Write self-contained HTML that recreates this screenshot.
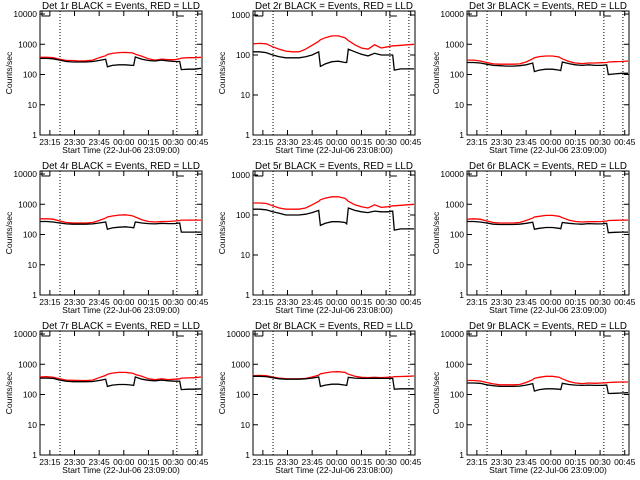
<!DOCTYPE html>
<html><head><meta charset="utf-8"><style>
html,body{margin:0;padding:0;background:#fff;}
svg{display:block;font-family:"Liberation Sans",sans-serif;}
</style></head><body>
<svg id="chart" width="640" height="480" viewBox="0 0 640 480"></svg>
<script>
const times = [0,4,8,12,16,20,24,28,32,36,40,41,44,48,52,56,57,58,62,66,70,74,78,82,85,86,90,94,98];
const detLabels = ["1r","2r","3r","4r","5r","6r","7r","8r","9r"];
const topLogs = [4.1,3.1,4.1,4.1,3.1,4.1,4.1,4.1,4.1];
const xTickMins = [6,21,36,51,66,81,96];
const xTickLabels = ["23:15","23:30","23:45","00:00","00:15","00:30","00:45"];
const dottedMins = [12.2,83.3,94.9];
const black1 = [340,340,330,300,270,260,260,260,270,290,320,180,200,210,210,200,200,380,320,290,280,300,280,270,270,145,150,150,160];
const red1   = [370,370,360,320,290,290,280,285,300,360,420,460,500,530,540,520,500,470,400,330,300,320,310,310,330,350,360,360,370];
const black2 = [120,120,115,100,90,85,85,85,90,100,120,52,60,68,70,65,65,140,120,105,95,110,100,100,100,42,45,45,45];
const red2   = [190,195,190,160,140,125,120,120,140,175,220,240,270,300,300,270,250,230,180,150,140,180,150,160,170,170,175,180,185];
const black3 = [250,250,240,220,200,195,190,190,195,210,240,125,140,150,150,140,135,260,230,210,200,210,200,200,210,100,105,110,110];
const red3   = [300,300,280,250,225,220,220,220,225,260,330,360,390,410,410,380,350,330,270,240,230,240,240,245,250,260,265,270,280];
const black4 = [270,270,260,240,225,220,220,220,225,240,260,150,165,175,180,170,165,260,240,230,225,235,230,230,240,120,120,120,120];
const red4   = [330,330,320,280,250,240,240,240,250,290,350,380,410,440,450,420,400,380,310,270,260,270,270,280,290,300,300,300,300];
const black5 = [140,140,135,120,110,100,100,100,105,115,130,55,62,68,68,65,60,150,130,120,115,125,120,120,125,42,45,45,45];
const red5   = [200,200,195,170,150,140,140,140,150,180,220,240,265,285,285,260,240,220,180,160,150,180,155,160,170,170,175,180,185];
const black6 = [270,270,260,240,220,215,215,215,220,235,255,150,160,170,170,160,155,250,235,225,220,230,225,225,235,115,118,120,120];
const red6   = [320,330,320,280,250,240,240,240,250,290,350,380,400,430,430,400,380,360,300,270,260,265,265,270,280,290,295,300,300];
const black7 = [350,350,340,300,275,265,265,265,270,290,320,185,205,215,215,205,200,380,320,295,285,300,285,275,275,145,150,150,155];
const red7   = [380,390,370,330,300,295,290,290,300,360,430,470,510,540,540,510,490,460,400,330,310,330,310,320,330,350,355,360,380];
const black8 = [400,400,390,360,330,320,320,320,330,350,380,185,205,220,220,205,200,370,350,340,340,345,340,340,340,150,155,155,155];
const red8   = [420,430,420,380,350,335,330,330,340,380,440,480,520,560,570,540,500,470,400,370,360,370,360,370,380,390,395,400,410];
const black9 = [240,240,235,210,195,185,185,185,190,205,230,130,145,155,155,150,145,235,215,205,200,205,200,200,205,108,110,112,115];
const red9   = [290,290,280,250,225,210,210,210,215,250,310,340,370,400,400,375,350,330,270,240,230,240,235,240,245,250,255,260,260];
const blacks = [black1,black2,black3,black4,black5,black6,black7,black8,black9];
const reds = [red1,red2,red3,red4,red5,red6,red7,red8,red9];

const NS = "http://www.w3.org/2000/svg";
const svg = document.getElementById("chart");
function mk(tag, attrs, parent){const e=document.createElementNS(NS,tag);for(const k in attrs)e.setAttribute(k,attrs[k]);parent.appendChild(e);return e;}
const colX=[0,213,427], rowY=[0,160,320];
const X0=40,X1=202,Y0=11,Y1=135,TMAX=98.6;
for(let p=0;p<9;p++){
  const ox=colX[p%3], oy=rowY[Math.floor(p/3)];
  const g=mk("g",{transform:`translate(${ox},${oy})`},svg);
  
  
  const topL=topLogs[p];
  const xs=t=>X0+(t/TMAX)*(X1-X0);
  const ys=v=>Y1-(Math.log10(v)/topL)*(Y1-Y0);
  const title=mk("text",{x:121,y:9,"text-anchor":"middle","font-size":"9.8"},g);
  title.textContent=`Det ${detLabels[p]} BLACK = Events, RED = LLD`;
  
  
  const box=mk("rect",{x:X0,y:Y0,width:X1-X0,height:Y1-Y0,fill:"none",stroke:"#000","stroke-width":1},g);
  
  
  const maxDec=Math.floor(topL);
  for(let d=0;d<=maxDec;d++){
    const y=ys(Math.pow(10,d));
    mk("line",{x1:X0,x2:X0+5,y1:y,y2:y,stroke:"#000"},g);
    mk("line",{x1:X1-5,x2:X1,y1:y,y2:y,stroke:"#000"},g);
    const lb=mk("text",{x:X0-3,y:y+3,"text-anchor":"end","font-size":"8.5"},g);
    lb.textContent=String(Math.pow(10,d));
    
    
  }
  xTickMins.forEach((m,i)=>{
    const x=xs(m);
    mk("line",{x1:x,x2:x,y1:Y1,y2:Y1-5,stroke:"#000"},g);
    mk("line",{x1:x,x2:x,y1:Y0,y2:Y0+5,stroke:"#000"},g);
    const lb=mk("text",{x:x,y:Y1+10,"text-anchor":"middle","font-size":"8.5"},g);
    lb.textContent=xTickLabels[i];
    
    
  });
  const xt=mk("text",{x:121,y:Y1+18,"text-anchor":"middle","font-size":"8.5"},g);
  xt.textContent=(p%3===1)?"Start Time (22-Jul-06 23:08:00)":"Start Time (22-Jul-06 23:09:00)";
  
  
  const yt=mk("text",{x:0,y:0,"text-anchor":"middle","font-size":"8.5",transform:`translate(12,${(Y0+Y1)/2}) rotate(-90)`},g);
  yt.textContent="Counts/sec";
  
  
  dottedMins.forEach(m=>{
    const dl=mk("line",{x1:xs(m),x2:xs(m),y1:Y0,y2:Y1,stroke:"#000","stroke-dasharray":"1,2"},g);
    
    
  });
  mk("polyline",{points:`${X0+2},${Y0} ${X0+2},${Y0+5} ${X0+10},${Y0+5}`,fill:"none",stroke:"#000"},g);
  mk("polyline",{points:`${xs(83.3)},${Y0} ${xs(83.3)},${Y0+5} ${xs(83.3)+7},${Y0+5}`,fill:"none",stroke:"#000"},g);
  const series=[[reds[p],"#ff0000","red-lld-line"],[blacks[p],"#000","black-events-line"]];
  series.forEach(s=>{
    const pts=times.map((t,i)=>`${xs(t).toFixed(1)},${ys(s[0][i]).toFixed(1)}`).join(" ");
    const pl=mk("polyline",{points:pts,fill:"none",stroke:s[1],"stroke-width":1.3},g);
    
    
  });
}
</script>
</body></html>
